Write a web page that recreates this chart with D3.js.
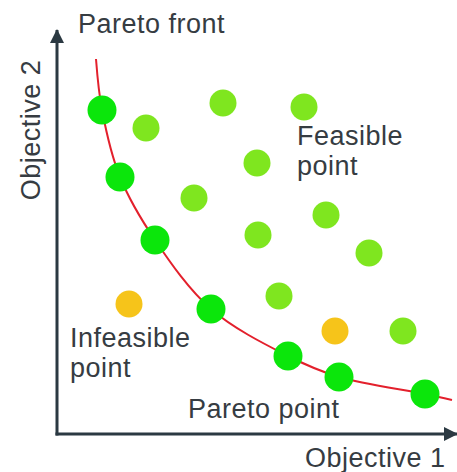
<!DOCTYPE html>
<html>
<head>
<meta charset="utf-8">
<script src="https://cdn.jsdelivr.net/npm/d3@7"></script>
<style>
  body { margin: 0; background: #fff; }
  text { font-family: "Liberation Sans", Arial, sans-serif; fill: #363c42; letter-spacing: 0.5px; }
</style>
</head>
<body>
<div id="chart"></div>
<script>
// points in objective units (0..100 on both axes)
const paretoX = [11.25, 15.75, 24.5, 38.5, 57.75, 70.5, 92];
const paretoY = [81, 64.25, 48.5, 31.25, 19.5, 14.25, 10];
const feasibleX = [22.25, 41.5, 61.75, 50, 34.25, 67.25, 50.25, 78, 55.5, 86.5];
const feasibleY = [76.5, 82.75, 81.75, 67.75, 59, 54.75, 49.75, 45.25, 34.5, 25.75];
const infeasibleX = [18, 69.5];
const infeasibleY = [32.5, 25.75];
// pareto front curve
const frontX = [9.75, 11.25, 15.75, 24.5, 38.5, 57.75, 70.5, 92, 98.75];
const frontY = [93.75, 81, 64.25, 48.5, 31.25, 19.5, 14.25, 10, 8.5];

const svgWidth = 457,
  svgHeight = 472;
const margin = { left: 57, right: 0, top: 30, bottom: 38 };

const svg = d3.select("#chart").append("svg").
  attr("width", svgWidth).
  attr("height", svgHeight);

const x = d3.scaleLinear().domain([0, 100]).range([margin.left, margin.left + 400]);
const y = d3.scaleLinear().domain([0, 100]).range([svgHeight - margin.bottom, svgHeight - margin.bottom - 400]);

const axisColor = "#2b3942";

svg.append("defs").append("marker").
  attr("id", "arrow").
  attr("viewBox", "0 0 14 14").
  attr("refX", 13).
  attr("refY", 7).
  attr("markerWidth", 14).
  attr("markerHeight", 14).
  attr("markerUnits", "userSpaceOnUse").
  attr("orient", "auto").
  append("path").
  attr("d", "M0,0L14,7L0,14Z").
  attr("fill", axisColor);

// axes without ticks, arrow at the far end
const xAxis = svg.append("g").
  attr("transform", `translate(0,${y(0)})`).
  call(d3.axisBottom(x).ticks(0).tickSizeOuter(0));
const yAxis = svg.append("g").
  attr("transform", `translate(${x(0)},0)`).
  call(d3.axisLeft(y).ticks(0).tickSizeOuter(0));

// redraw the domain paths so the arrows point outward
yAxis.select(".domain").
  attr("stroke", axisColor).
  attr("stroke-width", 3).
  attr("d", `M0,${y(0) + 1.5}V${y(101)}`).
  attr("marker-end", "url(#arrow)");
xAxis.select(".domain").
  attr("stroke", axisColor).
  attr("stroke-width", 3).
  attr("d", `M${x(0) - 1.5},0H${x(100)}`).
  attr("marker-end", "url(#arrow)");

// pareto front
const line = d3.line().
  x(i => x(frontX[i])).
  y(i => y(frontY[i])).
  curve(d3.curveCatmullRom.alpha(0.5));

svg.append("path").
  attr("d", line(d3.range(frontX.length))).
  attr("fill", "none").
  attr("stroke", "#e3202c").
  attr("stroke-width", 2);

const dots = (xs, ys, r, color) => svg.append("g").
  selectAll("circle").
  data(d3.range(xs.length)).
  join("circle").
  attr("cx", i => x(xs[i])).
  attr("cy", i => y(ys[i])).
  attr("r", r).
  attr("fill", color);

dots(feasibleX, feasibleY, 13.5, "#7fe61f");
dots(infeasibleX, infeasibleY, 13.5, "#f6c41a");
dots(paretoX, paretoY, 14.5, "#0be60b");

// labels
const label = (lines, lx, ly) => {
  const t = svg.append("text").attr("x", lx).attr("y", ly).style("font-size", "27px");
  lines.forEach((s, k) => t.append("tspan").attr("x", lx).attr("dy", k ? 30 : 0).text(s));
};

label(["Pareto front"], 78, 33);
label(["Feasible", "point"], 297, 145);
label(["Infeasible", "point"], 70, 347);
label(["Pareto point"], 188, 418);
label(["Objective 1"], 305, 467);

svg.append("text").
  attr("transform", "translate(40,130) rotate(-90)").
  attr("text-anchor", "middle").
  style("font-size", "27px").
  text("Objective 2");
</script>
</body>
</html>
